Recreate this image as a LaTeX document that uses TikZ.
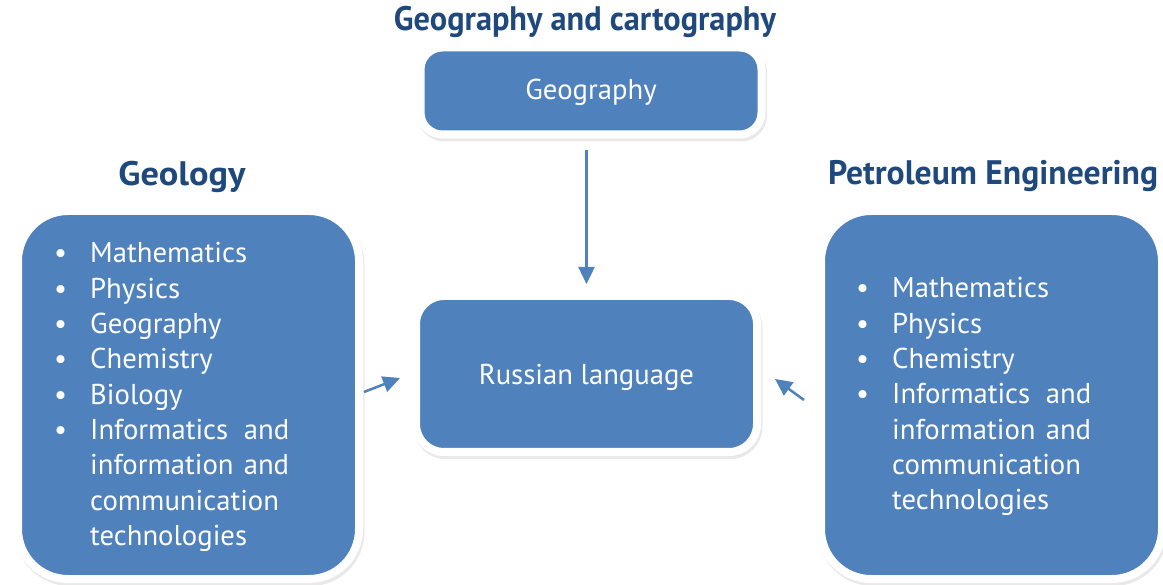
\documentclass[tikz,border=0pt]{standalone}
\usepackage{fontspec}
\setmainfont{PT Sans}
\usetikzlibrary{shadows,arrows.meta,calc}
\definecolor{boxblue}{HTML}{4F81BD}
\definecolor{titleblue}{HTML}{1F497D}
\newcommand\bul{\makebox[36pt][l]{•}}
\newcommand\ind{\hspace*{36pt}}
\newcommand\titletxt[2]{\resizebox{#1}{\height}{\bfseries #2}}
\newcommand\listbox[1]{\vtop{\hsize=300pt\parindent=0pt\parskip=0pt\leftskip=0pt\rightskip=0pt plus 1fil\fontsize{28.7}{35.3}\selectfont #1}}
\begin{document}
\begin{tikzpicture}[x=1pt,y=-1pt,
  card/.style={fill=boxblue, draw=white, line width=8pt, text=white,
    font=\fontsize{28.7}{34}\selectfont, inner sep=0pt,
    drop shadow={shadow xshift=1.5pt, shadow yshift=-3pt, fill=black!17, draw=black!17, line width=8pt}},
  title/.style={text=titleblue, font=\fontsize{34}{40}\selectfont, inner sep=0pt, anchor=base},
  listtext/.style={text=white, inner sep=0pt, anchor=base west},
  link/.style={draw=boxblue, line width=2.5pt, -{Triangle[length=17pt,width=16pt]}}]
\useasboundingbox (0,0) rectangle (1163,585);

% titles
\node[title] (tgeo) at (585,31) {\titletxt{382pt}{Geography and cartography}};
\node[title] (tgeol) at (182,186) {\titletxt{127pt}{Geology}};
\node[title] (tpetr) at (993,185) {\titletxt{330pt}{Petroleum Engineering}};

% boxes
\node[card, rounded corners=22pt, minimum width=341pt, minimum height=87pt,
      text height=22pt, text depth=4pt] (geo) at (591,91) {Geography};
\node[card, rounded corners=28pt, minimum width=341pt, minimum height=156pt,
      text height=24pt, text depth=2pt] (rus) at (586.5,374) {Russian language};
\node[card, rounded corners=50pt, minimum width=341pt, minimum height=368pt] (geol) at (188.5,395) {};
\node[card, rounded corners=50pt, minimum width=341pt, minimum height=368pt] (petr) at (991.5,395) {};

% lists
\node[listtext] (geollist) at (54,263) {\listbox{%
  \bul Mathematics\par
  \bul Physics\par
  \bul Geography\par
  \bul Chemistry\par
  \bul Biology\par
  \bul\makebox[199pt][s]{Informatics and}\par
  \ind\makebox[199pt][s]{information and}\par
  \ind communication\par
  \ind technologies}};
\node[listtext] (petrlist) at (856,298) {\listbox{%
  \bul Mathematics\par
  \bul Physics\par
  \bul Chemistry\par
  \bul\makebox[199pt][s]{Informatics and}\par
  \ind\makebox[199pt][s]{information and}\par
  \ind communication\par
  \ind technologies}};

% connectors
\draw[link] (rus.north |- geo.south) ++(0,12) coordinate (a1) (a1) -- ($(rus.north)+(0,-8)$);
\draw[link] ($(geol.east)+(1,-3)$) -- ($(rus.west)+(-12,4)$);
\draw[link] ($(petr.west)+(-13,5)$) -- ($(rus.east)+(14,5)$);
\end{tikzpicture}
\end{document}
